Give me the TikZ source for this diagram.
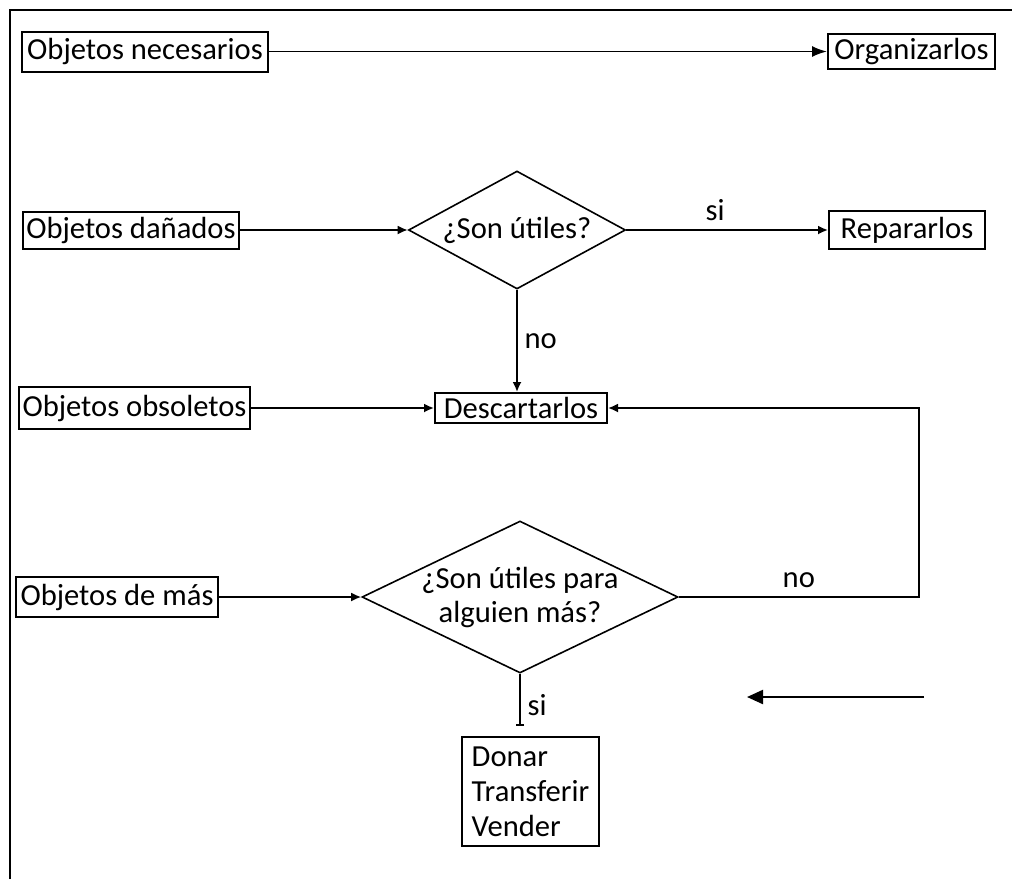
\documentclass[tikz,border=0pt]{standalone}
\usepackage{fontspec}
\setmainfont{Carlito}
\usetikzlibrary{arrows.meta}
\usetikzlibrary{shapes.geometric}

\tikzset{
  caja/.style={draw, line width=1pt, inner sep=0pt},
  rombo/.style={draw, diamond, line width=0.8pt, inner sep=0pt, aspect=1.8},
  flecha/.style={-{Latex[length=5pt,width=4.5pt]}, line width=0.9pt},
}

\begin{document}
\begin{tikzpicture}[x=0.5pt, y=-0.5pt, font=\fontsize{15.3}{17}\selectfont]
\useasboundingbox (0,0) rectangle (1012,879);

% marco
\draw[line width=1.3pt] (10,879) -- (10,10) -- (1012,10);

\node[caja, minimum width=123pt, minimum height=20pt] (necesarios) at (145,51.5) {Objetos necesarios};
\node[caja, minimum width=83.5pt, minimum height=17.5pt] (organizar) at (911.5,51.5) {Organizarlos};

\node[caja, minimum width=108pt, minimum height=18.5pt] (danados) at (131,230) {Objetos dañados};
\node[rombo, minimum width=108.5pt, minimum height=59pt,
  label={center:¿Son útiles?}] (utiles) at (517,230) {};
\node[caja, minimum width=78pt, minimum height=19pt] (reparar) at (907,230) {Repararlos};

\node[caja, minimum width=115.5pt, minimum height=21pt] (obsoletos) at (134.5,408) {Objetos obsoletos};
\node[caja, minimum width=86pt, minimum height=15pt] (descartar) at (521,408) {Descartarlos};

\node[caja, minimum width=101pt, minimum height=20pt] (demas) at (117,597) {Objetos de más};
\node[rombo, minimum width=158pt, minimum height=76pt,
  label={[align=center]center:¿Son útiles para\\alguien más?}] (alguien) at (520,597) {};

\node[caja, minimum width=68.5pt, minimum height=54.5pt, align=left, inner xsep=5pt,
  font=\fontsize{15.3}{17.5}\selectfont] (donar) at (530.5,791.5)
  {Donar\\Transferir\\Vender};

\coordinate (ini) at (924,697);
\coordinate (fin) at (747,697);

% conectores
\draw[flecha, -{Latex[length=7.5pt,width=5.5pt]}] (necesarios) -- (organizar);
\draw[flecha] (danados) -- (utiles.west);
\draw[flecha] (utiles.east) -- (reparar) node[midway, above=1pt, xshift=-6pt] {si};
\draw[flecha] (utiles.south) -- (utiles.south |- descartar.north) node[midway, right] {no};
\draw[flecha] (obsoletos) -- (descartar);
\draw[flecha] (demas) -- (alguien.west);
\draw[flecha] (alguien.east) -- ++(240,0) node[midway, above=1pt] {no} |- (descartar.east);
\draw[-{Bar[width=4pt]}, line width=0.9pt, shorten >=5pt] (alguien.south) -- (alguien.south |- donar.north) node[midway, right] {si};

\draw[-{Triangle[length=8pt,width=7pt]}, line width=1.1pt] (ini) -- (fin);

\end{tikzpicture}
\end{document}
